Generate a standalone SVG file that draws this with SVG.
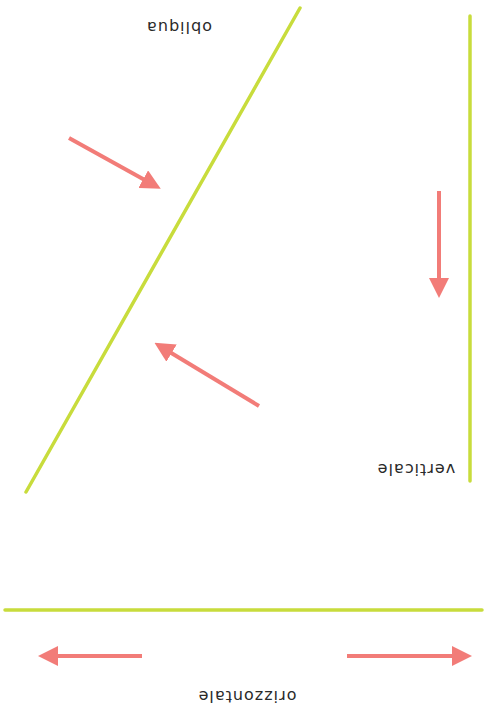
<svg xmlns="http://www.w3.org/2000/svg" width="486" height="720" viewBox="0 0 486 720">
<defs>
<style>
.ln{stroke:#c8dc3c;stroke-width:3.5;stroke-linecap:round;fill:none}
.ar{stroke:#f27c78;stroke-width:4;fill:none;marker-end:url(#ah)}
.tx{font-family:"DejaVu Sans",Verdana,sans-serif;font-size:16px;letter-spacing:1px;fill:#2a2a2a;text-anchor:middle}
</style>
<marker id="ah" markerWidth="5" markerHeight="5" refX="2.5" refY="2.5" orient="auto" markerUnits="strokeWidth">
<path d="M0,0 L5,2.5 L0,5 Z" fill="#f27c78"/>
</marker>
</defs>
<rect width="486" height="720" fill="#fff"/>
<g id="obliqua">
<line class="ln" x1="26" y1="492" x2="300" y2="8"/>
<text class="tx" transform="rotate(180 179 28)" x="179" y="34">obliqua</text>
</g>
<g id="verticale">
<line class="ln" x1="470" y1="16" x2="470" y2="481"/>
<text class="tx" transform="rotate(180 416 470)" x="416" y="476">verticale</text>
</g>
<g id="orizzontale">
<line class="ln" x1="5" y1="610" x2="482" y2="610"/>
<text class="tx" transform="rotate(180 247 697)" x="247" y="703">orizzontale</text>
</g>
<g id="connectors">
<line class="ar" x1="69" y1="138" x2="152" y2="184"/>
<line class="ar" x1="259" y1="406" x2="163" y2="348"/>
<line class="ar" x1="439" y1="191" x2="439" y2="288"/>
<line class="ar" x1="142" y1="656" x2="48" y2="656"/>
<line class="ar" x1="347" y1="656" x2="462" y2="656"/>
</g>
</svg>
